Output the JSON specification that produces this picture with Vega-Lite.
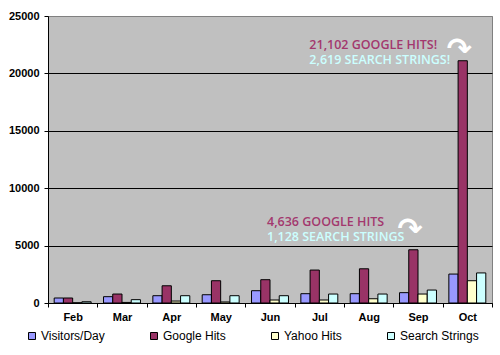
{
  "$schema": "https://vega.github.io/schema/vega-lite/v6.json",
  "width": 444,
  "height": 287,
  "autosize": "none",
  "padding": {"left": 48, "top": 16, "right": 8, "bottom": 52},
  "background": "white",
  "config": {
    "view": {"fill": "#C0C0C0", "stroke": "#808080", "strokeWidth": 1},
    "font": "Liberation Sans"
  },
  "datasets": {
    "bars": [
      {"month": "Feb", "series": "Visitors/Day", "value": 435},
      {"month": "Feb", "series": "Google Hits", "value": 435},
      {"month": "Feb", "series": "Yahoo Hits", "value": 20},
      {"month": "Feb", "series": "Search Strings", "value": 110},
      {"month": "Mar", "series": "Visitors/Day", "value": 550},
      {"month": "Mar", "series": "Google Hits", "value": 780},
      {"month": "Mar", "series": "Yahoo Hits", "value": 50},
      {"month": "Mar", "series": "Search Strings", "value": 290},
      {"month": "Apr", "series": "Visitors/Day", "value": 635},
      {"month": "Apr", "series": "Google Hits", "value": 1500},
      {"month": "Apr", "series": "Yahoo Hits", "value": 170},
      {"month": "Apr", "series": "Search Strings", "value": 635},
      {"month": "May", "series": "Visitors/Day", "value": 720},
      {"month": "May", "series": "Google Hits", "value": 1940},
      {"month": "May", "series": "Yahoo Hits", "value": 90},
      {"month": "May", "series": "Search Strings", "value": 635},
      {"month": "Jun", "series": "Visitors/Day", "value": 1070},
      {"month": "Jun", "series": "Google Hits", "value": 2030},
      {"month": "Jun", "series": "Yahoo Hits", "value": 260},
      {"month": "Jun", "series": "Search Strings", "value": 635},
      {"month": "Jul", "series": "Visitors/Day", "value": 810},
      {"month": "Jul", "series": "Google Hits", "value": 2870},
      {"month": "Jul", "series": "Yahoo Hits", "value": 260},
      {"month": "Jul", "series": "Search Strings", "value": 780},
      {"month": "Aug", "series": "Visitors/Day", "value": 810},
      {"month": "Aug", "series": "Google Hits", "value": 2980},
      {"month": "Aug", "series": "Yahoo Hits", "value": 370},
      {"month": "Aug", "series": "Search Strings", "value": 780},
      {"month": "Sep", "series": "Visitors/Day", "value": 900},
      {"month": "Sep", "series": "Google Hits", "value": 4636},
      {"month": "Sep", "series": "Yahoo Hits", "value": 780},
      {"month": "Sep", "series": "Search Strings", "value": 1128},
      {"month": "Oct", "series": "Visitors/Day", "value": 2520},
      {"month": "Oct", "series": "Google Hits", "value": 21102},
      {"month": "Oct", "series": "Yahoo Hits", "value": 1940},
      {"month": "Oct", "series": "Search Strings", "value": 2619}
    ],
    "notes": [
      {"month": "Oct", "value": 22460, "label": "21,102 GOOGLE HITS!", "kind": "google"},
      {"month": "Oct", "value": 21150, "label": "2,619 SEARCH STRINGS!", "kind": "search"},
      {"month": "Sep", "value": 7040, "label": "4,636 GOOGLE HITS", "kind": "google"},
      {"month": "Sep", "value": 5740, "label": "1,128 SEARCH STRINGS", "kind": "search"}
    ],
    "arrows": [
      {"month": "Oct", "value": 22370, "label": "↷"},
      {"month": "Sep", "value": 6720, "label": "↷"}
    ]
  },
  "layer": [
    {
      "data": {"name": "bars"},
      "mark": {"type": "bar", "stroke": "black", "strokeWidth": 1},
      "encoding": {
        "x": {
          "field": "month", "type": "nominal",
          "sort": ["Feb", "Mar", "Apr", "May", "Jun", "Jul", "Aug", "Sep", "Oct"],
          "scale": {"paddingInner": 0, "paddingOuter": 0},
          "axis": {
            "title": null, "labelAngle": 0, "labelFontWeight": "bold", "labelFontSize": 11,
            "labelColor": "black", "tickBand": "extent", "tickSize": 4, "tickColor": "black",
            "domainColor": "black", "labelPadding": 4, "grid": false
          }
        },
        "xOffset": {
          "field": "series", "type": "nominal",
          "sort": ["Visitors/Day", "Google Hits", "Yahoo Hits", "Search Strings"],
          "scale": {"paddingInner": 0, "paddingOuter": 0.67}
        },
        "y": {
          "field": "value", "type": "quantitative",
          "scale": {"domain": [0, 25000], "nice": false},
          "axis": {
            "title": null, "values": [0, 5000, 10000, 15000, 20000, 25000], "format": "d",
            "labelFontWeight": "bold", "labelFontSize": 11, "labelColor": "black",
            "tickSize": 4, "tickColor": "black", "domainColor": "black", "labelPadding": 5,
            "gridColor": {"condition": {"test": "datum.value >= 25000", "value": "#808080"}, "value": "black"},
            "gridOpacity": 1
          }
        },
        "color": {
          "field": "series", "type": "nominal",
          "scale": {
            "domain": ["Visitors/Day", "Google Hits", "Yahoo Hits", "Search Strings"],
            "range": ["#9999FF", "#993366", "#FFFFCC", "#CCFFFF"]
          },
          "legend": {
            "title": null, "orient": "none", "legendX": -22, "legendY": 314,
            "direction": "horizontal", "columnPadding": 43, "symbolType": "square",
            "symbolSize": 49, "symbolStrokeColor": "black", "symbolStrokeWidth": 1,
            "labelFontSize": 12, "labelColor": "black", "labelOffset": 3, "padding": 0
          }
        }
      }
    },
    {
      "data": {"name": "notes"},
      "transform": [{"filter": "datum.month == 'Oct'"}],
      "mark": {"type": "text", "align": "left", "baseline": "middle", "dx": -158, "font": "Open Sans", "fontSize": 12.5, "fontWeight": 600},
      "encoding": {
        "x": {"field": "month", "type": "nominal", "sort": ["Feb", "Mar", "Apr", "May", "Jun", "Jul", "Aug", "Sep", "Oct"]},
        "y": {"field": "value", "type": "quantitative"},
        "text": {"field": "label"},
        "color": {"condition": {"test": "datum.kind == 'google'", "value": "#A3386E"}, "value": "#CCFFFF"}
      }
    },
    {
      "data": {"name": "notes"},
      "transform": [{"filter": "datum.month == 'Sep'"}],
      "mark": {"type": "text", "align": "left", "baseline": "middle", "dx": -151, "font": "Open Sans", "fontSize": 12.5, "fontWeight": 600},
      "encoding": {
        "x": {"field": "month", "type": "nominal", "sort": ["Feb", "Mar", "Apr", "May", "Jun", "Jul", "Aug", "Sep", "Oct"]},
        "y": {"field": "value", "type": "quantitative"},
        "text": {"field": "label"},
        "color": {"condition": {"test": "datum.kind == 'google'", "value": "#A3386E"}, "value": "#CCFFFF"}
      }
    },
    {
      "data": {"name": "arrows"},
      "mark": {"type": "text", "align": "center", "baseline": "middle", "dx": -8, "dy": 4, "font": "DejaVu Sans", "fontSize": 30, "fontWeight": "bold", "color": "white"},
      "encoding": {
        "x": {"field": "month", "type": "nominal", "sort": ["Feb", "Mar", "Apr", "May", "Jun", "Jul", "Aug", "Sep", "Oct"]},
        "y": {"field": "value", "type": "quantitative"},
        "text": {"field": "label"}
      }
    }
  ]
}
